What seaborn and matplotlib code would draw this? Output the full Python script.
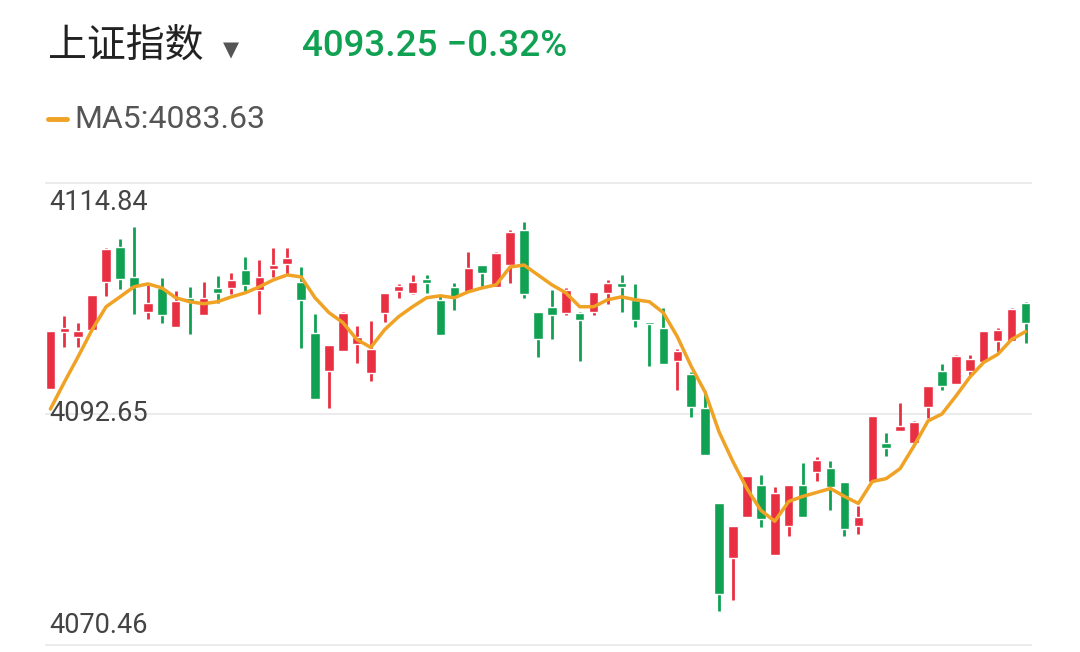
import matplotlib
matplotlib.use("Agg")
import matplotlib.pyplot as plt
import seaborn as sns
import numpy as np
import pandas as pd

opens = [4095.0,4100.5,4100.0,4100.7,4105.3,4108.65,4105.79,4102.46,4104.74,4101.03,4103.79,4102.17,4104.74,4104.74,4106.45,4104.55,4106.55,4107.03,4105.31,4100.46,4096.74,4098.65,4099.31,4096.55,
         4102.36,4104.45,4104.27,4105.60,4103.60,4104.84,4104.36,4106.93,4104.84,4106.93,4110.26,4102.46,4102.93,4102.36,4102.36,4102.46,4104.27,4105.22,4103.60,4101.50,4100.93,4097.69,4096.46,4093.22,
         4084.07,4078.84,4082.74,4085.79,4079.12,4081.88,4085.79,4087.12,4087.50,4086.17,4081.88,4086.17,4089.88,4091.03,4089.88,4093.31,4096.74,4095.50,4096.74,4097.60,4099.60,4099.69,4103.31]
closes = [4100.6,4100.9,4100.6,4104.1,4108.5,4105.60,4104.84,4103.31,4102.17,4103.50,4103.41,4103.79,4104.27,4105.50,4105.03,4105.79,4106.93,4107.60,4103.60,4094.07,4099.22,4102.36,4100.07,4098.84,
          4104.27,4104.93,4105.31,4105.22,4100.26,4103.88,4106.65,4106.17,4108.07,4110.07,4104.17,4099.79,4102.17,4104.55,4101.69,4104.36,4105.22,4104.84,4101.69,4101.31,4097.41,4098.65,4093.31,4088.74,
          4075.41,4081.88,4086.74,4082.55,4085.03,4085.79,4082.74,4088.26,4085.60,4081.60,4082.74,4092.45,4089.41,4091.50,4091.88,4095.31,4095.31,4098.17,4097.88,4100.65,4100.74,4102.74,4101.41]
highs = [4100.6,4102.0,4101.4,4104.1,4108.6,4109.41,4110.55,4105.03,4105.69,4104.45,4104.84,4105.31,4105.88,4106.17,4107.69,4107.41,4108.55,4108.55,4106.74,4102.26,4099.22,4102.46,4101.12,4101.60,
         4104.27,4105.12,4105.98,4105.98,4104.07,4105.22,4108.17,4106.93,4108.17,4110.26,4111.03,4102.46,4104.55,4104.74,4102.46,4104.36,4105.50,4105.98,4105.12,4101.50,4102.84,4098.84,4096.65,4094.84,
         4084.07,4081.88,4086.74,4086.84,4085.60,4085.79,4087.98,4088.55,4088.17,4086.17,4083.79,4092.45,4090.84,4093.69,4091.98,4095.31,4097.41,4098.26,4098.26,4100.65,4100.93,4102.84,4103.41]
lows = [4095.0,4099.1,4099.1,4100.7,4104.0,4104.65,4102.26,4101.79,4101.41,4101.03,4100.36,4102.17,4103.31,4104.17,4104.45,4102.26,4105.79,4105.98,4098.93,4094.07,4093.22,4098.65,4097.50,4095.79,
        4101.50,4103.79,4104.17,4104.27,4100.26,4102.65,4104.36,4104.84,4104.84,4105.22,4103.79,4098.07,4099.79,4102.17,4097.69,4102.17,4103.22,4102.46,4101.03,4097.22,4097.41,4094.93,4092.36,4088.74,
        4073.79,4074.84,4082.74,4081.79,4079.12,4080.93,4082.74,4086.26,4083.41,4080.93,4081.12,4086.17,4088.64,4091.03,4089.88,4092.26,4094.93,4095.50,4096.26,4097.60,4098.55,4099.69,4099.50]
ma5 = [4093.12,4095.69,4098.17,4100.74,4102.93,4103.88,4104.84,4105.12,4104.74,4103.79,4103.41,4103.22,4103.41,4103.88,4104.27,4104.84,4105.50,4105.98,4105.79,4103.79,4102.36,4101.41,4099.79,4099.03,
       4100.74,4101.98,4102.93,4103.79,4103.98,4103.79,4104.36,4104.74,4105.03,4106.74,4106.93,4105.98,4105.03,4104.27,4102.93,4102.93,4103.60,4103.88,4103.60,4103.41,4102.36,4100.07,4097.22,4094.74,
       4090.93,4088.07,4085.50,4083.41,4082.36,4084.26,4084.74,4085.12,4085.50,4084.74,4084.07,4086.17,4086.45,4087.41,4089.60,4091.98,4092.65,4094.36,4096.17,4097.60,4098.36,4099.79,4100.55]
y_ticks = [4114.84, 4092.65, 4070.46]
tick_labels = ["4114.84", "4092.65", "4070.46"]

RED, GREEN, ORANGE = "#e83042", "#10a153", "#f0a224"

sns.set_style("white")
plt.rcParams['font.family'] = ['Roboto', 'Noto Sans CJK SC', 'DejaVu Sans']

df = pd.DataFrame({"i": np.arange(1, len(opens) + 1), "o": opens, "c": closes,
                   "h": highs, "l": lows, "ma": ma5})
df["up"] = df["c"] >= df["o"]

fig = plt.figure(figsize=(10.8, 6.52), dpi=100)
ax = fig.add_axes([0.042, 0.006, 0.914, 0.715])

for yv in y_ticks:
    ax.axhline(yv, color="#e8e8e8", lw=1.2, zorder=0)

for _, r in df.iterrows():
    col = RED if r.up else GREEN
    ax.vlines(r.i, r.l, r.h, color=col, lw=2.0, zorder=2)
    lo, hi = min(r.o, r.c), max(r.o, r.c)
    ax.bar(r.i, max(hi - lo, 0.2), bottom=lo, width=0.68, color=col, zorder=3)

sns.lineplot(data=df, x="i", y="ma", ax=ax, color=ORANGE, lw=2.5, zorder=4)

ax.set_xlim(0.64, 71.5)
ax.set_ylim(4070.2, 4114.9)
ax.set_xticks([]); ax.set_yticks([])
ax.set_xlabel(""); ax.set_ylabel("")
for s in ax.spines.values():
    s.set_visible(False)

tr = ax.get_yaxis_transform()
ax.text(0.004, y_ticks[0] - 1.9, tick_labels[0], transform=tr, fontsize=19.5, color="#444444", va="center")
ax.text(0.004, y_ticks[1], tick_labels[1], transform=tr, fontsize=19.5, color="#444444", va="center")
ax.text(0.004, y_ticks[2] + 1.9, tick_labels[2], transform=tr, fontsize=19.5, color="#444444", va="center")

fig.text(48/1080, 1 - 47/652, "上证指数", fontsize=28, color="#222222", va="center",
         family=['Noto Sans CJK SC', 'DejaVu Sans'])
fig.text(223/1080, 1 - 50/652, "▼", fontsize=15, color="#555555", va="center", family=['DejaVu Sans'],
         transform=fig.transFigure)
fig.text(302/1080, 1 - 47/652, "4093.25 −0.32%", fontsize=26.5, color=GREEN, va="center", weight="medium")
fig.lines.append(plt.Line2D([48/1080, 67/1080], [1 - 119/652, 1 - 119/652], transform=fig.transFigure,
                            color=ORANGE, lw=3.5))
fig.text(74/1080, 1 - 119/652, "MA5:4083.63", fontsize=23, color="#555555", va="center")

fig.savefig("out.png", dpi=100)
